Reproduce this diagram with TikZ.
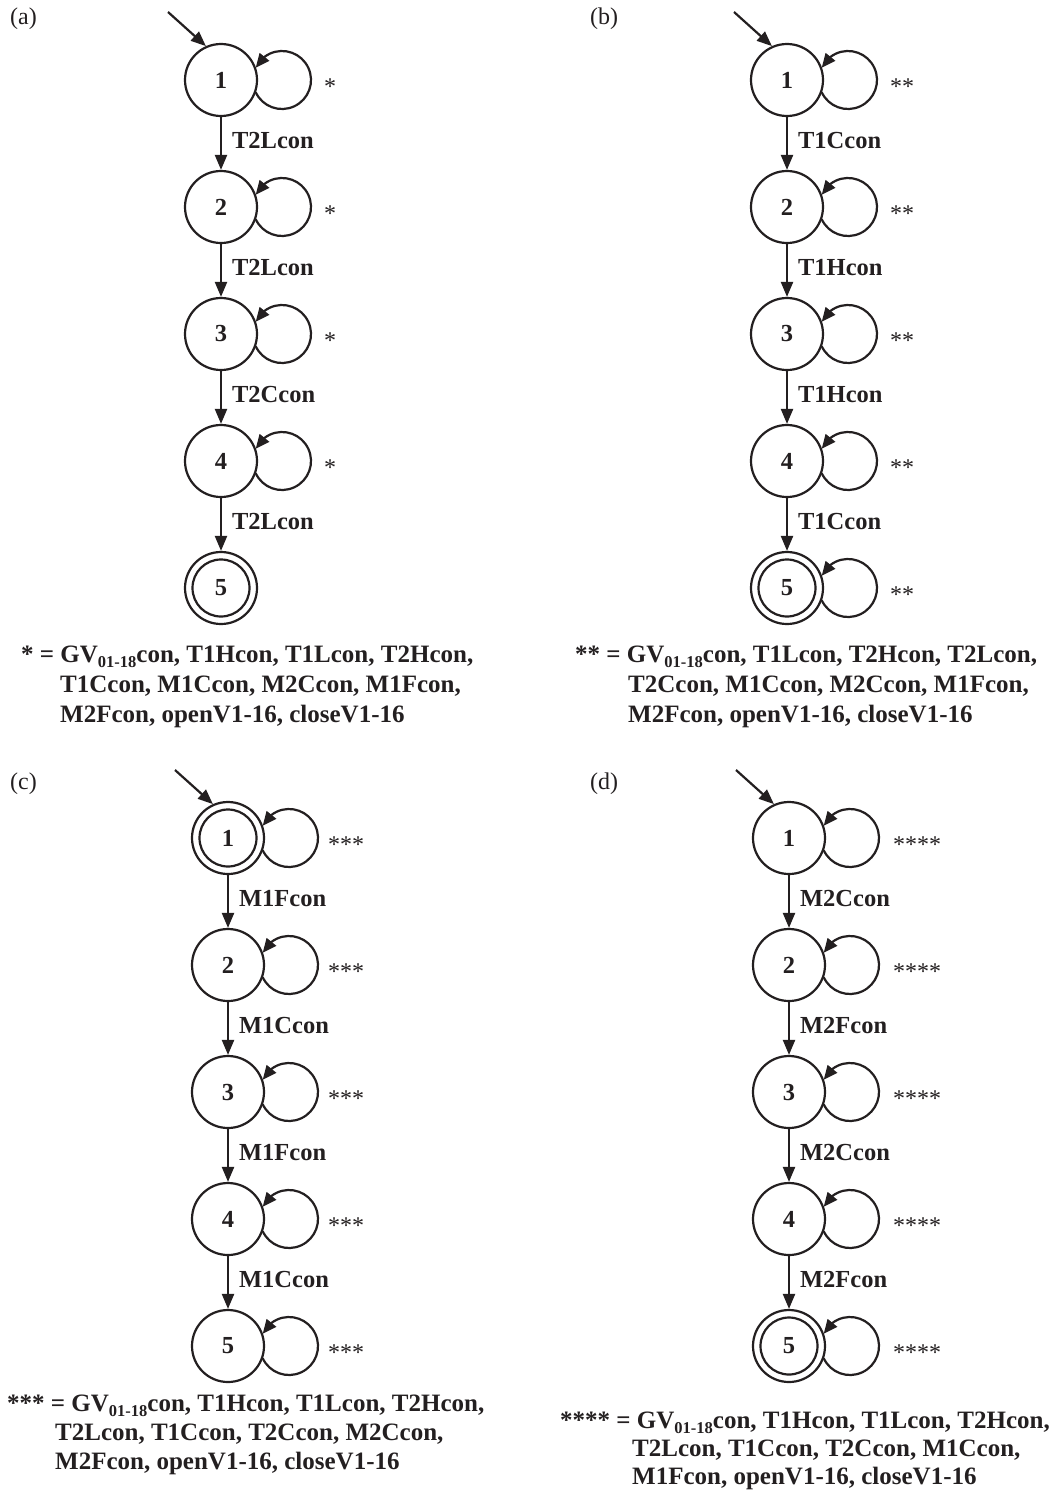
\documentclass[tikz,border=0pt]{standalone}
\usepackage{fontspec}
\setmainfont{Liberation Serif}
\usetikzlibrary{arrows.meta,bending}
\definecolor{ink}{RGB}{35,31,32}
% self-loop on the right-hand side of a state
\newcommand\loopat[1]{\draw[looparr] ([shift={(61,0)}]#1.center) ++(205:29) arc[start angle=205,end angle=515,radius=29];}
% inner ring of an accepting state
\newcommand\acceptring[1]{\draw[line width=2.2pt, ink] (#1.center) circle[radius=28.5];}
% GV with the index range as subscript
\newcommand\gvsub{GV\raisebox{-0.22em}{\fontsize{16.5}{16.5}\selectfont 01-18}}
\begin{document}
\begin{tikzpicture}[x=1pt,y=1pt,
  state/.style={circle, draw=ink, text=ink, line width=2.2pt, minimum size=72pt, inner sep=0pt,
    font=\fontsize{24.5}{24.5}\selectfont\bfseries},
  arr/.style={ink, line width=2.2pt, -{Triangle[length=15pt,width=12pt]}},
  looparr/.style={ink, line width=2.2pt, -{Triangle[length=14pt,width=12pt,flex]}},
  tlabel/.style={text=ink, font=\fontsize{24.5}{24.5}\selectfont\bfseries, inner sep=0pt,
    anchor=west, xshift=10pt, yshift=3pt},
  starlabel/.style={text=ink, font=\fontsize{24}{24}\selectfont, inner sep=0pt, anchor=base west},
  legend/.style={text=ink, font=\fontsize{25}{30}\selectfont\bfseries, inner sep=0pt, anchor=base west},
  panel/.style={text=ink, font=\fontsize{24}{24}\selectfont, inner sep=0pt, anchor=base west},
]
\useasboundingbox (0,0) rectangle (1051,-1491);

% ---------------- panel (a) ----------------
\node[panel] (pa) at (10,-24) {(a)};
\foreach \i/\y in {1/80,2/207,3/334,4/461,5/588}
  \node[state] (a\i) at (221,-\y) {\i};
\acceptring{a5}
\coordinate (a0) at ([shift={(-53,68)}]a1.center);
\draw[arr] (a0) -- (a1.114);
\draw[arr] (a1) -- node[tlabel] {T2Lcon} (a2);
\draw[arr] (a2) -- node[tlabel] {T2Lcon} (a3);
\draw[arr] (a3) -- node[tlabel] {T2Ccon} (a4);
\draw[arr] (a4) -- node[tlabel] {T2Lcon} (a5);
\foreach \i in {1,...,4} {
  \loopat{a\i}
  \node[starlabel] (as\i) at ([shift={(103,-14)}]a\i.center) {*};
}
\node[legend] (la1) at (21,-662) {* = \gvsub con, T1Hcon, T1Lcon, T2Hcon,};
\node[legend] (la2) at (60,-692) {T1Ccon, M1Ccon, M2Ccon, M1Fcon,};
\node[legend] (la3) at (60,-722) {M2Fcon, openV1-16, closeV1-16};

% ---------------- panel (b) ----------------
\node[panel] (pb) at (590,-24) {(b)};
\foreach \i/\y in {1/80,2/207,3/334,4/461,5/588}
  \node[state] (b\i) at (787,-\y) {\i};
\acceptring{b5}
\coordinate (b0) at ([shift={(-53,68)}]b1.center);
\draw[arr] (b0) -- (b1.114);
\draw[arr] (b1) -- node[tlabel] {T1Ccon} (b2);
\draw[arr] (b2) -- node[tlabel] {T1Hcon} (b3);
\draw[arr] (b3) -- node[tlabel] {T1Hcon} (b4);
\draw[arr] (b4) -- node[tlabel] {T1Ccon} (b5);
\foreach \i in {1,...,5} {
  \loopat{b\i}
  \node[starlabel] (bs\i) at ([shift={(103,-14)}]b\i.center) {**};
}
\node[legend] (lb1) at (575,-662) {** = \gvsub con, T1Lcon, T2Hcon, T2Lcon,};
\node[legend] (lb2) at (628,-692) {T2Ccon, M1Ccon, M2Ccon, M1Fcon,};
\node[legend] (lb3) at (628,-722) {M2Fcon, openV1-16, closeV1-16};

% ---------------- panel (c) ----------------
\node[panel] (pc) at (10,-789) {(c)};
\foreach \i/\y in {1/838,2/965,3/1092,4/1219,5/1346}
  \node[state] (c\i) at (228,-\y) {\i};
\acceptring{c1}
\coordinate (c0) at ([shift={(-53,68)}]c1.center);
\draw[arr] (c0) -- (c1.114);
\draw[arr] (c1) -- node[tlabel] {M1Fcon} (c2);
\draw[arr] (c2) -- node[tlabel] {M1Ccon} (c3);
\draw[arr] (c3) -- node[tlabel] {M1Fcon} (c4);
\draw[arr] (c4) -- node[tlabel] {M1Ccon} (c5);
\foreach \i in {1,...,5} {
  \loopat{c\i}
  \node[starlabel] (cs\i) at ([shift={(100,-14)}]c\i.center) {***};
}
\node[legend] (lc1) at (7,-1411) {*** = \gvsub con, T1Hcon, T1Lcon, T2Hcon,};
\node[legend] (lc2) at (55,-1440) {T2Lcon, T1Ccon, T2Ccon, M2Ccon,};
\node[legend] (lc3) at (55,-1469) {M2Fcon, openV1-16, closeV1-16};

% ---------------- panel (d) ----------------
\node[panel] (pd) at (590,-789) {(d)};
\foreach \i/\y in {1/838,2/965,3/1092,4/1219,5/1346}
  \node[state] (d\i) at (789,-\y) {\i};
\acceptring{d5}
\coordinate (d0) at ([shift={(-53,68)}]d1.center);
\draw[arr] (d0) -- (d1.114);
\draw[arr] (d1) -- node[tlabel] {M2Ccon} (d2);
\draw[arr] (d2) -- node[tlabel] {M2Fcon} (d3);
\draw[arr] (d3) -- node[tlabel] {M2Ccon} (d4);
\draw[arr] (d4) -- node[tlabel] {M2Fcon} (d5);
\foreach \i in {1,...,5} {
  \loopat{d\i}
  \node[starlabel] (ds\i) at ([shift={(104,-14)}]d\i.center) {****};
}
\node[legend] (ld1) at (560,-1428) {**** = \gvsub con, T1Hcon, T1Lcon, T2Hcon,};
\node[legend] (ld2) at (632,-1456) {T2Lcon, T1Ccon, T2Ccon, M1Ccon,};
\node[legend] (ld3) at (632,-1484) {M1Fcon, openV1-16, closeV1-16};
\end{tikzpicture}
\end{document}
